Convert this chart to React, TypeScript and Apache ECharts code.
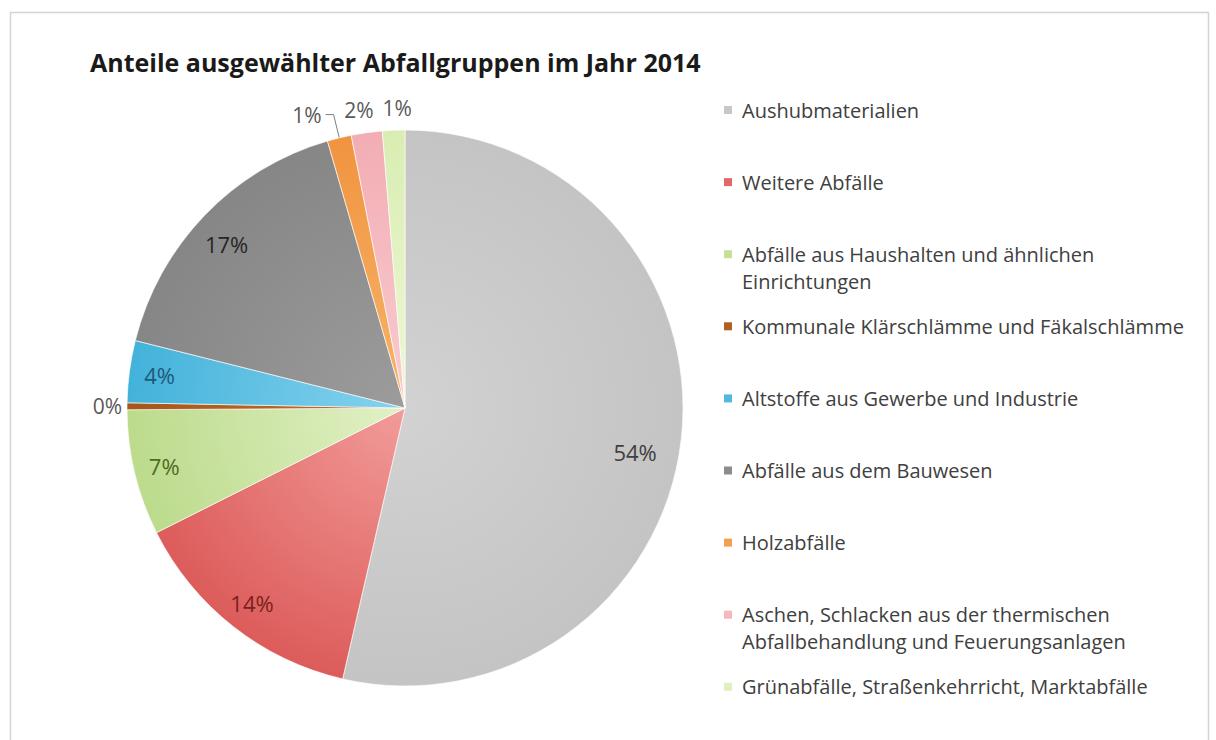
import React, { useEffect, useRef } from "react";
import * as echarts from "echarts";

const titleText = "Anteile ausgewählter Abfallgruppen im Jahr 2014";

const categories = [
  "Aushubmaterialien",
  "Weitere Abfälle",
  "Abfälle aus Haushalten und ähnlichen Einrichtungen",
  "Kommunale Klärschlämme und Fäkalschlämme",
  "Altstoffe aus Gewerbe und Industrie",
  "Abfälle aus dem Bauwesen",
  "Holzabfälle",
  "Aschen, Schlacken aus der thermischen Abfallbehandlung und Feuerungsanlagen",
  "Grünabfälle, Straßenkehrricht, Marktabfälle",
];

const legendLabels = [
  "Aushubmaterialien",
  "Weitere Abfälle",
  "Abfälle aus Haushalten und ähnlichen\nEinrichtungen",
  "Kommunale Klärschlämme und Fäkalschlämme",
  "Altstoffe aus Gewerbe und Industrie",
  "Abfälle aus dem Bauwesen",
  "Holzabfälle",
  "Aschen, Schlacken aus der thermischen\nAbfallbehandlung und Feuerungsanlagen",
  "Grünabfälle, Straßenkehrricht, Marktabfälle",
];

// shares in percent
const shares = [53.6, 14.0, 7.3, 0.4, 3.6, 16.6, 1.4, 1.8, 1.3];

const innerColors = ["#d2d2d2", "#f29c9a", "#e2f1c6", "#c4732a", "#86d3ee", "#9c9c9c", "#f8b46a", "#f9ccd0", "#eef8d4"];
const outerColors = ["#c4c4c4", "#dc5c5a", "#bcdb8c", "#a5561a", "#43b2da", "#868686", "#f09440", "#f2adb4", "#d9edb2"];
const legendColors = ["#c8c8c8", "#e06a68", "#c6e09a", "#b0601f", "#52b9de", "#8c8c8c", "#f4a050", "#f4b8bd", "#e0f0bc"];
const labelColors = ["#404040", "#7a1f1f", "#4d6b1f", "#595959", "#1d5a78", "#262626", "#595959", "#595959", "#595959"];
const insideLabel = [true, true, true, false, true, true, false, false, false];

const CX = 405;
const CY = 408;
const R = 278;
const FONT = "'Open Sans', 'Noto Sans', sans-serif";

export default function App() {
  const ref = useRef<HTMLDivElement>(null);

  useEffect(() => {
    if (!ref.current) return;
    const chart = echarts.init(ref.current, null, { renderer: "svg" });

    const fmt = (p: any) => Math.round(p.percent) + "%";

    const mainData = categories.map((name, i) => {
      const item: any = {
        name,
        value: shares[i],
        itemStyle: {
          color: {
            type: "radial",
            x: CX,
            y: CY,
            r: R,
            global: true,
            colorStops: [
              { offset: 0, color: innerColors[i] },
              { offset: 1, color: outerColors[i] },
            ],
          },
        },
        label: { show: false },
        labelLine: { show: false },
      };
      if (!insideLabel[i]) {
        item.label = {
          show: true,
          position: "outside",
          color: "#595959",
          fontSize: 21,
          fontFamily: FONT,
          formatter: fmt,
          distanceToLabelLine: i === 6 ? 4 : 0,
        };
        if (i === 6) {
          item.labelLine = {
            show: true,
            length: 24,
            length2: 8,
            lineStyle: { color: "#7f7f7f", width: 1 },
          };
        } else if (i === 3) {
          item.labelLine = { show: false, length: 0, length2: 0 };
          item.label.distanceToLabelLine = 5;
        } else {
          item.labelLine = { show: false, length: 12, length2: 0 };
        }
      }
      return item;
    });

    const labelData = categories.map((name, i) => ({
      name,
      value: shares[i],
      itemStyle: { color: "rgba(0,0,0,0)" },
      label: insideLabel[i]
        ? {
            show: true,
            position: "inside",
            color: labelColors[i],
            fontSize: 22,
            fontFamily: FONT,
            formatter: fmt,
          }
        : { show: false },
    }));

    const legendGraphics: any[] = [];
    legendLabels.forEach((txt, i) => {
      const cy = 110 + i * 72.1;
      legendGraphics.push({
        type: "rect",
        shape: { x: 724, y: cy - 4, width: 8, height: 8 },
        style: { fill: legendColors[i] },
        silent: true,
      });
      legendGraphics.push({
        type: "text",
        x: 742,
        y: cy - 13.5,
        style: {
          text: txt,
          fill: "#404040",
          font: `20px ${FONT}`,
          lineHeight: 27,
          verticalAlign: "top",
          align: "left",
        },
        silent: true,
      });
    });

    chart.setOption({
      animation: false,
      backgroundColor: "#ffffff",
      title: {
        text: titleText,
        left: 85,
        top: 44,
        textStyle: {
          fontFamily: FONT,
          fontSize: 25,
          fontWeight: "bold",
          color: "#1a1a1a",
        },
      },
      graphic: [
        {
          type: "rect",
          shape: { x: 10.5, y: 12.5, width: 1198, height: 760 },
          style: { fill: "none", stroke: "#d4d4d4", lineWidth: 1.5 },
          silent: true,
          z: -1,
        },
        ...legendGraphics,
      ],
      series: [
        {
          type: "pie",
          center: [CX, CY],
          radius: [0, R],
          startAngle: 90,
          clockwise: true,
          avoidLabelOverlap: false,
          itemStyle: { borderColor: "rgba(255,255,255,0.8)", borderWidth: 0.8 },
          emphasis: { disabled: true },
          labelLayout: (p: any) => {
            if (p.dataIndex === 7) return { align: "center", verticalAlign: "bottom", dx: -6 };
            if (p.dataIndex === 8) return { align: "center", verticalAlign: "bottom", dx: 4 };
            return {};
          },
          data: mainData,
        },
        {
          type: "pie",
          center: [CX, CY],
          radius: [R * 0.76, R],
          startAngle: 90,
          clockwise: true,
          avoidLabelOverlap: false,
          silent: true,
          emphasis: { disabled: true },
          labelLine: { show: false },
          labelLayout: (p: any) => {
            if (p.dataIndex === 0) return { dx: -16, dy: 16 };
            if (p.dataIndex === 5) return { dy: 8 };
            return {};
          },
          data: labelData,
        },
      ],
    });

    return () => chart.dispose();
  }, []);

  return (
    <div
      ref={ref}
      style={{ position: "fixed", left: 0, top: 0, width: 1216, height: 740 }}
    />
  );
}
